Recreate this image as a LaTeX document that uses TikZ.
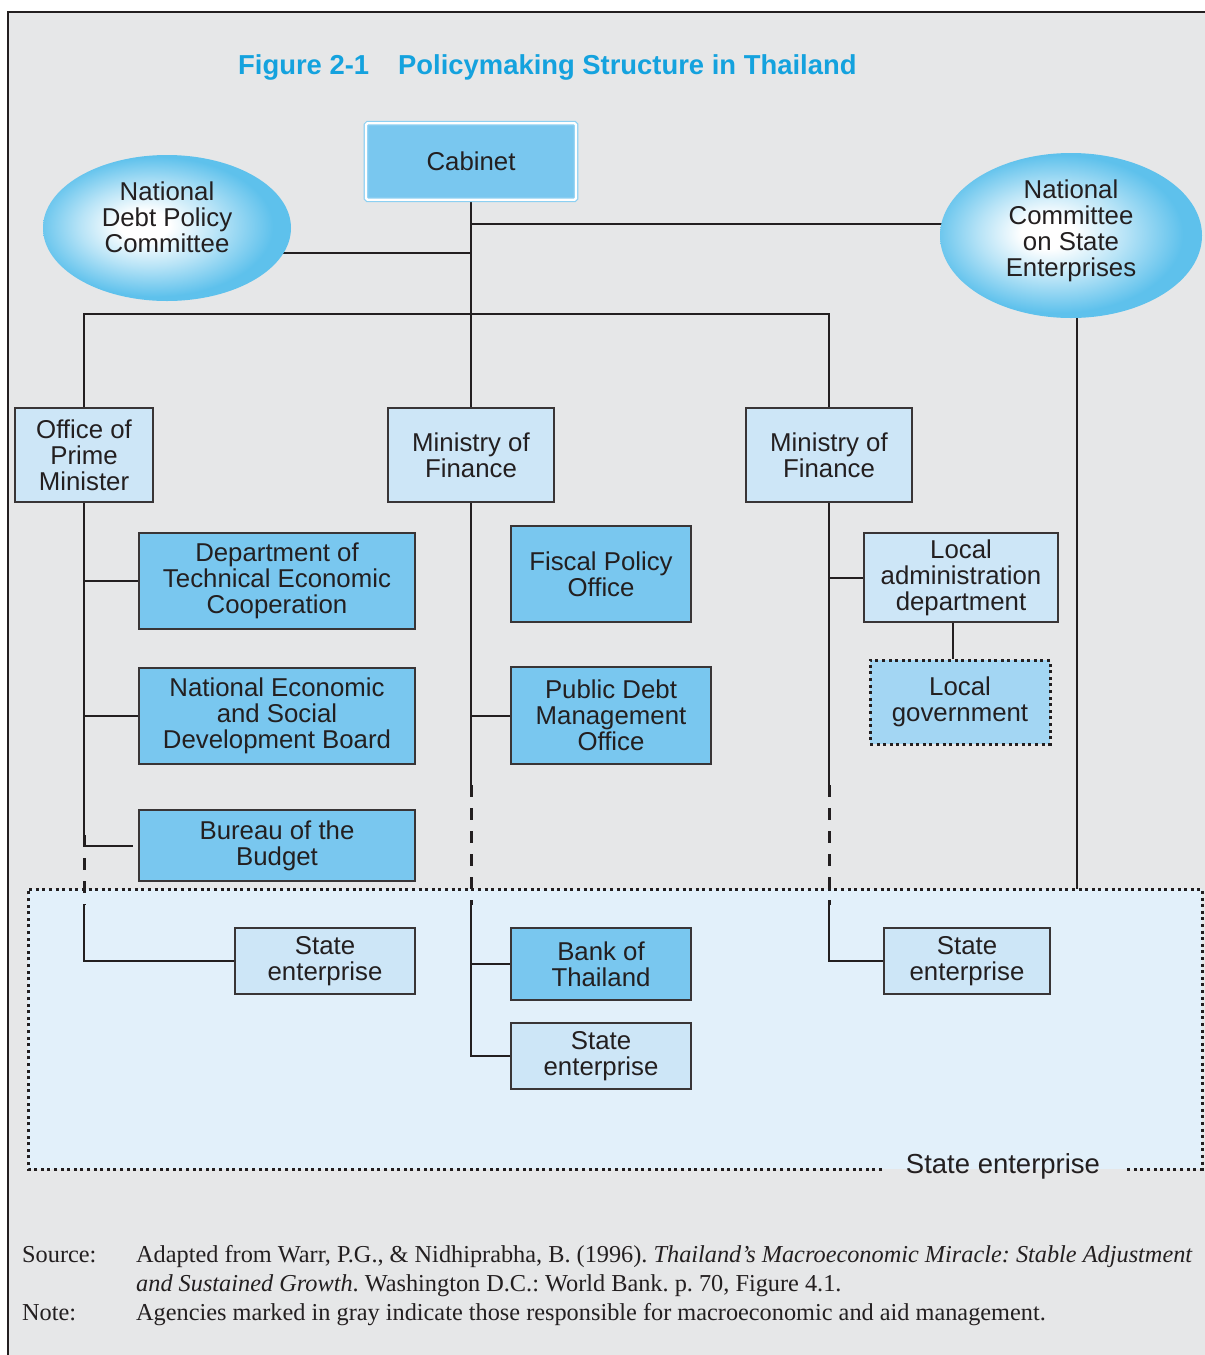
\documentclass[tikz,border=0pt]{standalone}
\usepackage{fontspec}
\setmainfont{Liberation Sans}
\newfontfamily\notefont{Liberation Serif}
\usetikzlibrary{shapes.geometric}
\frenchspacing

\definecolor{pagegray}{HTML}{E6E7E8}
\definecolor{ink}{HTML}{231F20}
\definecolor{midblue}{HTML}{79C7EF}
\definecolor{paleblue}{HTML}{CDE6F7}
\definecolor{lgblue}{HTML}{A3D6F3}
\definecolor{zoneblue}{HTML}{E2F0FA}
\definecolor{titleblue}{HTML}{14A2DE}
\definecolor{ellblue}{HTML}{5EC1EC}
\definecolor{cabline}{HTML}{8DD0F2}

\pgfdeclareradialshading{ellshade}{\pgfpoint{-5bp}{1bp}}{%
  color(0bp)=(white); color(5bp)=(white); color(14bp)=(ellblue!45!white);
  color(24bp)=(ellblue); color(50bp)=(ellblue)}

\pgfdeclarelayer{back}
\pgfdeclarelayer{wires}
\pgfsetlayers{back,wires,main}

\tikzset{
  txt/.style={font=\fontsize{25.8}{26}\selectfont, text=ink, align=center},
  box/.style={txt, rectangle, draw=ink!90, line width=1.6pt, inner sep=0pt},
  midbox/.style={box, fill=midblue},
  palebox/.style={box, fill=paleblue},
  committee/.style={txt, ellipse, shading=ellshade, inner sep=0pt},
  conn/.style={draw=ink, line width=2pt},
  brk/.style={draw=ink, line width=3pt, dash pattern=on 12pt off 11pt},
  dots/.style={draw=ink, line width=3pt, dash pattern=on 3pt off 3.6pt},
  note/.style={font=\notefont\fontsize{24.3}{29}\selectfont, text=ink, anchor=base west, inner sep=0pt}
}

\begin{document}
\begin{tikzpicture}[x=1pt, y=-1pt]
\useasboundingbox (0,0) rectangle (1205,1355);

% page and frame
\begin{pgfonlayer}{back}
  \fill[pagegray] (8,12) rectangle (1205,1355);
  \fill[zoneblue] (28,889) rectangle (1202,1169);
\end{pgfonlayer}
\draw[line width=1.5pt, ink] (8,1355) -- (8,12) -- (1205,12);

% title
\node[anchor=base west, inner sep=0pt, text=titleblue, font=\bfseries\fontsize{27.4}{30}\selectfont] (ttlnum) at (238,74) {Figure 2-1};
\node[anchor=base west, inner sep=0pt, text=titleblue, font=\bfseries\fontsize{27.4}{30}\selectfont] (ttltext) at (398,74) {Policymaking Structure in Thailand};

% top level
\node[txt, rectangle, fill=midblue, draw=cabline, double=white, double distance=2.4pt, line width=1.1pt,
      rounded corners=1.5pt, minimum width=210pt, minimum height=76.5pt, inner sep=0pt] (cab) at (471,161.5) {Cabinet};

\node[committee, minimum width=248pt, minimum height=146pt] (ndpc) at (167,228) {};
\node[txt] (ndpctxt) at (167,217) {National\\Debt Policy\\Committee};
\node[committee, minimum width=262pt, minimum height=165pt] (ncse) at (1071,235.5) {};
\node[txt] (ncsetxt) at (1071,231) {National\\Committee\\on State\\Enterprises};

% ministries
\node[palebox, minimum width=138pt, minimum height=94pt] (opm) at (84,455) {Office of\\Prime\\Minister};
\node[palebox, minimum width=166pt, minimum height=94pt] (mof1) at (471,455) {Ministry of\\Finance};
\node[palebox, minimum width=166pt, minimum height=94pt] (mof2) at (829,455) {Ministry of\\Finance};

% agencies
\node[midbox, minimum width=276pt, minimum height=96pt] (dtec) at (277,581) {Department of\\Technical Economic\\Cooperation};
\node[midbox, minimum width=276pt, minimum height=96pt] (nesdb) at (277,716) {National Economic\\and Social\\Development Board};
\node[midbox, minimum width=276pt, minimum height=71pt] (bob) at (277,845.5) {Bureau of the\\Budget};
\node[midbox, minimum width=180pt, minimum height=96pt] (fpo) at (601,574) {Fiscal Policy\\Office};
\node[midbox, minimum width=200pt, minimum height=97pt] (pdmo) at (611,715.5) {Public Debt\\Management\\Office};
\node[palebox, minimum width=194pt, minimum height=89pt] (lad) at (961,577.5) {Local\\administration\\department};
\node[txt, rectangle, fill=lgblue, dots, inner sep=0pt, minimum width=180pt, minimum height=84pt] (lg) at (960,702) {Local\\government};

% state enterprise layer
\node[palebox, minimum width=180pt, minimum height=66pt] (se1) at (325,961) {State\\enterprise};
\node[midbox, minimum width=180pt, minimum height=72pt] (bot) at (601,964) {Bank of\\Thailand};
\node[palebox, minimum width=180pt, minimum height=66pt] (se2) at (601,1056) {State\\enterprise};
\node[palebox, minimum width=166pt, minimum height=66pt] (se3) at (967,961) {State\\enterprise};

\draw[dots] (882,1169) -- (28,1169) -- (28,889) -- (1202,889) -- (1202,1169) -- (1127,1169);
\node[txt, font=\fontsize{27.5}{28}\selectfont, inner sep=0pt] (zonelbl) at (1003,1166) {State enterprise};

% connectors
\coordinate (jncse) at (471,224);
\coordinate (jndpc) at (471,253);
\coordinate (jbar) at (471,314);
\coordinate (zonetop) at (1077,889);
\coordinate (opmA) at (84,835);
\coordinate (opmB) at (84,905);
\coordinate (mofA) at (471,785);
\coordinate (mofB) at (471,905);
\coordinate (mtwoA) at (829,785);
\coordinate (mtwoB) at (829,905);
\coordinate (bobend) at (133,846);

\begin{pgfonlayer}{wires}
  \draw[conn] (cab.south) -- (mof1.north);
  \draw[conn] (jncse) -- (jncse -| ncse.center);
  \draw[conn] (jndpc) -- (jndpc -| ndpc.center);
  \draw[conn] (opm.north) -- (opm.north |- jbar) -- (mof2.north |- jbar) -- (mof2.north);
  \draw[conn] (zonetop |- ncse.center) -- (zonetop);

  % Office of Prime Minister line
  \draw[conn] (opm.south) -- (opmA);
  \draw[brk] (opmA) -- (opmB);
  \draw[conn] (opmB) -- (opmB |- se1.west) -- (se1.west);
  \draw[conn] (opm.south |- dtec.west) -- (dtec.west);
  \draw[conn] (opm.south |- nesdb.west) -- (nesdb.west);
  \draw[conn] (opm.south |- bobend) -- (bobend);

  % Ministry of Finance (centre) line
  \draw[conn] (mof1.south) -- (mofA);
  \draw[brk] (mofA) -- (mofB);
  \draw[conn] (mofB) -- (mofB |- se2.west) -- (se2.west);
  \draw[conn] (mof1.south |- pdmo.west) -- (pdmo.west);
  \draw[conn] (mof1.south |- bot.west) -- (bot.west);

  % Ministry of Finance (right) line
  \draw[conn] (mof2.south) -- (mtwoA);
  \draw[brk] (mtwoA) -- (mtwoB);
  \draw[conn] (mtwoB) -- (mtwoB |- se3.west) -- (se3.west);
  \draw[conn] (mof2.south |- lad.west) -- (lad.west);
  \draw[conn] ([xshift=-8pt]lad.south) -- ([xshift=-8pt]lad.south |- lg.north);
\end{pgfonlayer}

% source and note
\node[note] (srclbl) at (22,1262) {Source:};
\node[note] (src1) at (136,1262) {Adapted from Warr, P.G., \& Nidhiprabha, B. (1996). \textit{Thailand’s Macroeconomic Miracle: Stable Adjustment}};
\node[note] (src2) at (136,1291) {\textit{and Sustained Growth}. Washington D.C.: World Bank. p. 70, Figure 4.1.};
\node[note] (notelbl) at (22,1320) {Note:};
\node[note] (note1) at (136,1320) {Agencies marked in gray indicate those responsible for macroeconomic and aid management.};
\end{tikzpicture}
\end{document}
